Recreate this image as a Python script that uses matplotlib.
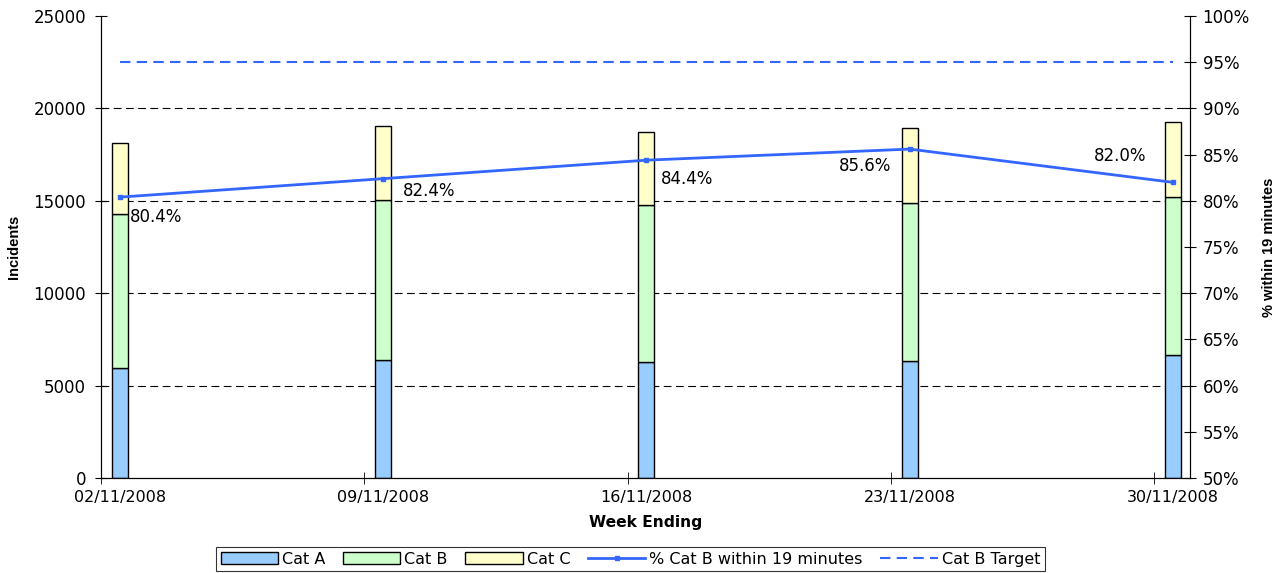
import numpy as np
import matplotlib
matplotlib.use("Agg")
import matplotlib.pyplot as plt
from matplotlib.ticker import FuncFormatter

plt.rcParams['font.family'] = ['DejaVu Sans']

# data
weeks = ["02/11/2008", "09/11/2008", "16/11/2008", "23/11/2008", "30/11/2008"]
cat_a = [5950, 6385, 6260, 6330, 6655]
cat_b = [8340, 8675, 8495, 8540, 8535]
cat_c = [3820, 4005, 3970, 4085, 4055]
pct_b19 = [80.4, 82.4, 84.4, 85.6, 82.0]
target = [95, 95, 95, 95, 95]

# label offsets in pixels (dx, dy, ha) to mimic the Excel placement
label_offsets = [(10, -20, 'left'), (20, -12, 'left'), (14, -19, 'left'),
                 (-18, -17, 'right'), (-27, 26, 'right')]

blue = '#3366FF'
x = np.arange(len(weeks))
bw = 0.061

fig = plt.figure(figsize=(12.84, 5.73), dpi=100)
ax1 = fig.add_axes([0.0787, 0.1658, 0.8481, 0.8062])
ax2 = ax1.twinx()

ax1.set_ylim(0, 25000)
ax1.set_xlim(-0.068, 4.065)
ax1.set_yticks(np.arange(0, 25001, 5000))
for yv in ax1.get_yticks()[1:-1]:
    ax1.axhline(yv, color='black', lw=0.8, dashes=(7, 4), zorder=0)

bot_b = np.array(cat_a)
bot_c = bot_b + np.array(cat_b)
ax1.bar(x, cat_a, bw, color='#99CCFF', edgecolor='black', lw=1, label='Cat A', zorder=2)
ax1.bar(x, cat_b, bw, bottom=bot_b, color='#CCFFCC', edgecolor='black', lw=1, label='Cat B', zorder=2)
ax1.bar(x, cat_c, bw, bottom=bot_c, color='#FFFFCC', edgecolor='black', lw=1, label='Cat C', zorder=2)

ax2.set_ylim(50, 100)
ax2.set_yticks(np.arange(50, 101, 5))
ax2.yaxis.set_major_formatter(FuncFormatter(lambda v, p: f"{v:.0f}%"))
ln, = ax2.plot(x, pct_b19, color=blue, lw=2, marker='s', ms=3, label='% Cat B within 19 minutes')
tl, = ax2.plot(x, target, color=blue, lw=1.5, dashes=(5, 3), label='Cat B Target')

for xi, v, (dx, dy, ha) in zip(x, pct_b19, label_offsets):
    ax2.annotate(f"{v:.1f}%", (xi, v), xytext=(dx * 0.72, dy * 0.72), textcoords='offset points',
                 ha=ha, va='center', fontsize=12)

# x ticks: labels under bars, tick marks slightly left as in Excel date axis
ax1.set_xticks(x)
ax1.set_xticklabels(weeks)
ax1.tick_params(axis='x', length=0, labelsize=11.5, pad=9)
ax1.set_xticks(x - 0.072, minor=True)
ax1.tick_params(axis='x', which='minor', direction='inout', length=8)

ax1.tick_params(axis='y', direction='inout', length=8.5, labelsize=12, pad=6.5)
ax2.tick_params(axis='y', direction='inout', length=8, labelsize=12, pad=5)

for a in (ax1, ax2):
    a.spines['top'].set_visible(False)

ax1.set_xlabel('Week Ending', fontsize=11.2, fontweight='bold', labelpad=7)
ax1.set_ylabel('Incidents', fontsize=10.5, fontweight='bold', family='Liberation Sans')
ax1.yaxis.set_label_coords(-0.0735, 0.5)
ax2.set_ylabel('% within 19 minutes', fontsize=10.5, fontweight='bold', family='Liberation Sans')
ax2.yaxis.set_label_coords(1.066, 0.5)

handles = ax1.get_legend_handles_labels()[0] + [ln, tl]
labels = [h.get_label() for h in handles]
leg = fig.legend(handles, labels, loc='center', bbox_to_anchor=(0.491, 0.0244), ncol=5,
                 fontsize=11.5, frameon=True, fancybox=False, handlelength=3.6,
                 columnspacing=1.1, handletextpad=0.25, borderpad=0.3, borderaxespad=0)
leg.get_frame().set_edgecolor('black')
leg.get_frame().set_linewidth(0.8)

fig.savefig('out.png', dpi=100)
